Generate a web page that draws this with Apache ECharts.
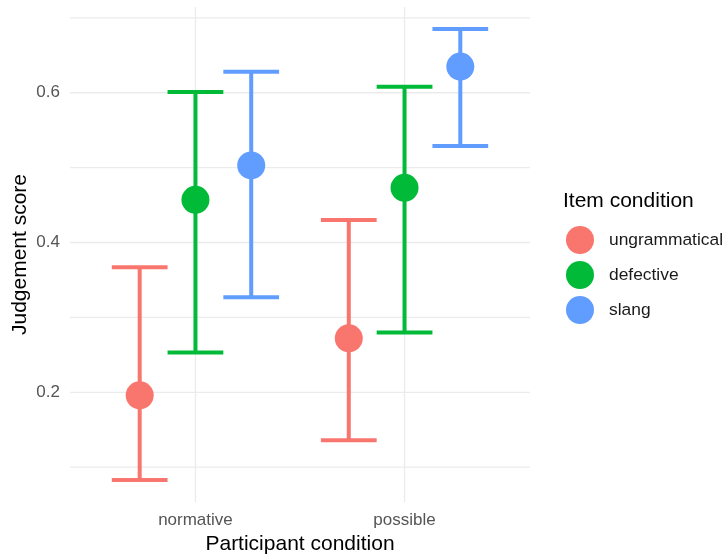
<!DOCTYPE html>
<html>
<head>
<meta charset="utf-8">
<script src="https://cdn.jsdelivr.net/npm/echarts@6/dist/echarts.min.js"></script>
<style>
  html, body { margin: 0; padding: 0; background: #ffffff; }
  #chart { width: 727px; height: 554px; }
</style>
</head>
<body>
<div id="chart"></div>
<script>
// Participant conditions on the x axis, item conditions as dodged groups
const categories = ['normative', 'possible'];
const groups = ['ungrammatical', 'defective', 'slang'];
const groupColors = ['#F8766D', '#00BA38', '#619CFF'];

// Mean judgement score and interval bounds, one value per participant condition
const meanUngrammatical = [0.196, 0.272];
const lowerUngrammatical = [0.083, 0.136];
const upperUngrammatical = [0.367, 0.430];

const meanDefective = [0.457, 0.473];
const lowerDefective = [0.253, 0.280];
const upperDefective = [0.601, 0.608];

const meanSlang = [0.503, 0.635];
const lowerSlang = [0.327, 0.529];
const upperSlang = [0.628, 0.685];

const yTickLabels = [0.2, 0.4, 0.6];
const yGridValues = [0.1, 0.2, 0.3, 0.4, 0.5, 0.6, 0.7];

const means = [meanUngrammatical, meanDefective, meanSlang];
const lowers = [lowerUngrammatical, lowerDefective, lowerSlang];
const uppers = [upperUngrammatical, upperDefective, upperSlang];

const FONT = '"Liberation Sans", Arial, Helvetica, sans-serif';
const dodgeWidth = 0.8;
const slot = dodgeWidth / groups.length;
const capHalf = slot / 2;

function dodgedX(catIndex, groupIndex) {
  return catIndex + 1 + (groupIndex - (groups.length - 1) / 2) * slot;
}

const gridColor = '#EBEBEB';

// Background grid: horizontal lines at every 0.1, vertical lines at each category
const gridSeries = {
  type: 'custom',
  silent: true,
  z: 0,
  data: yGridValues.map(v => [v]),
  renderItem: function (params, api) {
    const cs = params.coordSys;
    const y = api.coord([1, api.value(0)])[1];
    return {
      type: 'line',
      shape: { x1: cs.x, y1: y, x2: cs.x + cs.width, y2: y },
      style: { stroke: gridColor, lineWidth: 1.3 }
    };
  }
};
const vGridSeries = {
  type: 'custom',
  silent: true,
  z: 0,
  data: categories.map((c, i) => [i + 1]),
  renderItem: function (params, api) {
    const cs = params.coordSys;
    const x = api.coord([api.value(0), 0.4])[0];
    return {
      type: 'line',
      shape: { x1: x, y1: cs.y, x2: x, y2: cs.y + cs.height },
      style: { stroke: gridColor, lineWidth: 1.3 }
    };
  }
};

const series = [gridSeries, vGridSeries];

groups.forEach((g, gi) => {
  const color = groupColors[gi];
  series.push({
    name: g,
    type: 'custom',
    z: 2,
    itemStyle: { color: color },
    data: categories.map((c, ci) => [dodgedX(ci, gi), lowers[gi][ci], uppers[gi][ci]]),
    renderItem: function (params, api) {
      const x = api.value(0);
      const lo = api.value(1);
      const hi = api.value(2);
      const pTop = api.coord([x, hi]);
      const pBot = api.coord([x, lo]);
      const left = api.coord([x - capHalf, hi])[0];
      const right = api.coord([x + capHalf, hi])[0];
      const st = { stroke: color, lineWidth: 4, lineCap: 'butt' };
      return {
        type: 'group',
        children: [
          { type: 'line', shape: { x1: pTop[0], y1: pTop[1], x2: pBot[0], y2: pBot[1] }, style: st },
          { type: 'line', shape: { x1: left, y1: pTop[1], x2: right, y2: pTop[1] }, style: st },
          { type: 'line', shape: { x1: left, y1: pBot[1], x2: right, y2: pBot[1] }, style: st }
        ]
      };
    }
  });
});

groups.forEach((g, gi) => {
  series.push({
    name: g,
    type: 'scatter',
    z: 3,
    symbol: 'circle',
    symbolSize: 28,
    itemStyle: { color: groupColors[gi], opacity: 1 },
    emphasis: { disabled: true },
    data: categories.map((c, ci) => [dodgedX(ci, gi), means[gi][ci]])
  });
});

const chart = echarts.init(document.getElementById('chart'), null, { renderer: 'canvas' });
chart.setOption({
  animation: false,
  backgroundColor: '#ffffff',
  textStyle: { fontFamily: FONT },
  grid: { left: 70, right: 197, top: 7, bottom: 52, containLabel: false, outerBoundsMode: 'none' },
  title: {
    text: 'Item condition',
    left: 558,
    top: 186,
    textStyle: { fontFamily: FONT, fontSize: 21, fontWeight: 'normal', color: '#000000' }
  },
  legend: {
    orient: 'vertical',
    left: 561,
    top: 221,
    itemWidth: 28,
    itemHeight: 28,
    itemGap: 7,
    selectedMode: false,
    textStyle: { fontFamily: FONT, fontSize: 17.4, color: '#1a1a1a', padding: [0, 0, 0, 10] },
    data: groups.map((g, gi) => ({ name: g, icon: 'circle', itemStyle: { color: groupColors[gi] } }))
  },
  xAxis: {
    type: 'value',
    min: 0.4,
    max: 2.6,
    name: 'Participant condition',
    nameLocation: 'middle',
    nameGap: 30,
    nameTextStyle: { fontFamily: FONT, fontSize: 21, color: '#000000' },
    axisLine: { show: false },
    axisTick: { show: false },
    splitLine: { show: false },
    axisLabel: {
      customValues: categories.map((c, i) => i + 1),
      formatter: v => categories[Math.round(v) - 1],
      fontFamily: FONT,
      fontSize: 17,
      color: '#555555',
      margin: 10
    }
  },
  yAxis: {
    type: 'value',
    min: 0.0535,
    max: 0.7145,
    name: 'Judgement score',
    nameLocation: 'middle',
    nameGap: 39,
    nameMoveOverlap: false,
    nameTextStyle: { fontFamily: FONT, fontSize: 21, color: '#000000' },
    axisLine: { show: false },
    axisTick: { show: false },
    splitLine: { show: false },
    axisLabel: {
      customValues: yTickLabels,
      formatter: v => v.toFixed(1),
      fontFamily: FONT,
      fontSize: 17,
      color: '#555555',
      margin: 10
    }
  },
  series: series
});
</script>
</body>
</html>
